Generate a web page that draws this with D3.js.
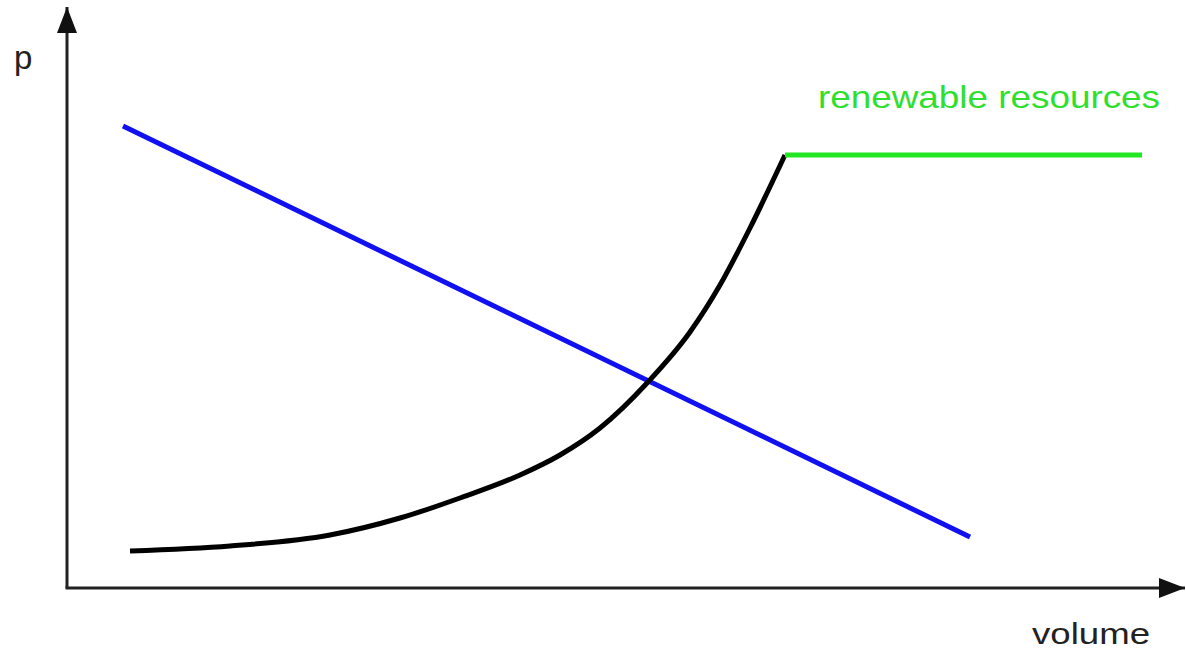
<!DOCTYPE html>
<html>
<head>
<meta charset="utf-8">
<script src="https://cdn.jsdelivr.net/npm/d3@7"></script>
<style>
  html, body { margin: 0; padding: 0; background: #fff; }
  svg { display: block; }
  text { font-family: "Liberation Sans", Arial, sans-serif; }
</style>
</head>
<body>
<script>
// ---- data (abstract units: volume on x, price on y) ----
const demandX = [5.6, 90.3];
const demandY = [46.2, 5.1];

const supplyX = [6.3, 16.3, 26.3, 33.3, 39.3, 45.3, 49.3, 53.3, 58.1, 62.3, 65.3, 68.3, 71.8];
const supplyY = [3.7, 4.2, 5.3, 7.0, 9.0, 11.3, 13.3, 16.0, 20.6, 25.6, 30.3, 36.0, 43.3];

const renewableX = [71.8, 107.5];
const renewableY = [43.3, 43.3];

const labels = { y: "p", x: "volume", renewable: "renewable resources" };

// ---- layout ----
const W = 1186, H = 652;
const x = d3.scaleLinear().domain([0, 110]).range([67, 1167]);
const y = d3.scaleLinear().domain([0, 55]).range([588, 38]);

const svg = d3.select("body").append("svg").attr("width", W).attr("height", H);

const defs = svg.append("defs");
defs.append("marker")
  .attr("id", "arrow")
  .attr("viewBox", "0 0 26 20")
  .attr("refX", 26).attr("refY", 10)
  .attr("markerWidth", 26).attr("markerHeight", 20)
  .attr("markerUnits", "userSpaceOnUse")
  .attr("orient", "auto")
  .append("path").attr("d", "M0,0 L26,10 L0,20 Z").attr("fill", "#111");

// axes
const axisColor = "#222";
svg.append("line")
  .attr("x1", x(0)).attr("y1", y(0))
  .attr("x2", x(0)).attr("y2", y(58.1))
  .attr("stroke", axisColor).attr("stroke-width", 3)
  .attr("marker-end", "url(#arrow)");
svg.append("line")
  .attr("x1", x(0) - 1.5).attr("y1", y(0))
  .attr("x2", x(111.8)).attr("y2", y(0))
  .attr("stroke", axisColor).attr("stroke-width", 3)
  .attr("marker-end", "url(#arrow)");

const line = d3.line().x(d => x(d[0])).y(d => y(d[1]));

// demand (blue)
svg.append("path")
  .datum(d3.zip(demandX, demandY))
  .attr("d", line)
  .attr("fill", "none").attr("stroke", "#1010f0").attr("stroke-width", 5);

// supply (black curve)
svg.append("path")
  .datum(d3.zip(supplyX, supplyY))
  .attr("d", d3.line().x(d => x(d[0])).y(d => y(d[1])).curve(d3.curveMonotoneX))
  .attr("fill", "none").attr("stroke", "#000").attr("stroke-width", 5);

// renewable (green)
svg.append("path")
  .datum(d3.zip(renewableX, renewableY))
  .attr("d", line)
  .attr("fill", "none").attr("stroke", "#22e622").attr("stroke-width", 5);

// labels
svg.append("text")
  .attr("x", 14).attr("y", 69)
  .attr("font-size", 33).attr("fill", "#222")
  .text(labels.y);

svg.append("text")
  .attr("x", 1032).attr("y", 644)
  .attr("font-size", 30).attr("fill", "#222")
  .attr("textLength", 118).attr("lengthAdjust", "spacingAndGlyphs")
  .text(labels.x);

svg.append("text")
  .attr("x", 818).attr("y", 108)
  .attr("font-size", 32).attr("fill", "#2ee02e")
  .attr("textLength", 342).attr("lengthAdjust", "spacingAndGlyphs")
  .text(labels.renewable);
</script>
</body>
</html>
